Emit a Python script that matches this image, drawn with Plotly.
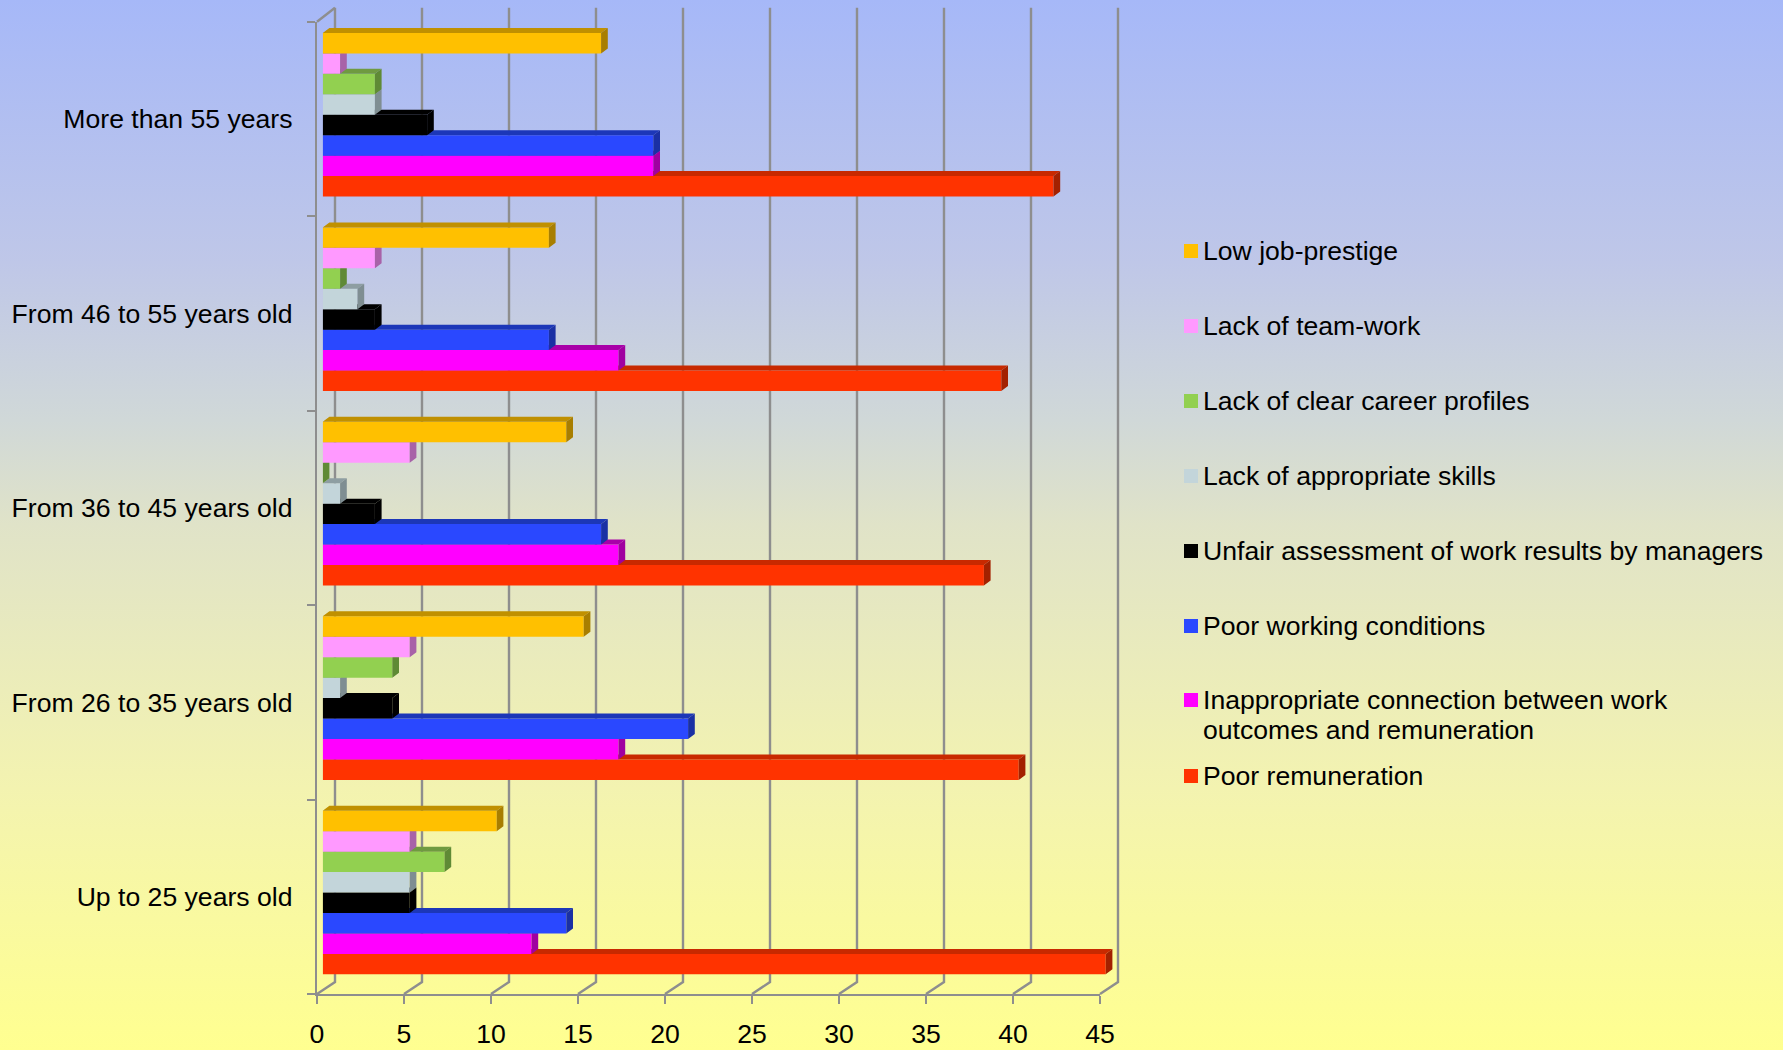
import plotly.graph_objects as go

categories = ["Up to 25 years old", "From 26 to 35 years old", "From 36 to 45 years old",
              "From 46 to 55 years old", "More than 55 years"]

poor_remuneration = [45, 40, 38, 39, 42]
inappropriate_connection = [12, 17, 17, 17, 19]
poor_conditions = [14, 21, 16, 13, 19]
unfair_assessment = [5, 4, 3, 3, 6]
lack_skills = [5, 1, 1, 2, 3]
lack_career = [7, 4, 0, 1, 3]
lack_teamwork = [5, 5, 5, 3, 1]
low_prestige = [10, 15, 14, 13, 16]

x_ticks = [0, 5, 10, 15, 20, 25, 30, 35, 40, 45]

series = [
    ("Poor remuneration", poor_remuneration, "#FF3300", "#C82900", "#A32100"),
    ("Inappropriate connection between work<br>outcomes and remuneration", inappropriate_connection, "#FF00FF", "#A800A8", "#A000A0"),
    ("Poor working conditions", poor_conditions, "#2A48FF", "#1C37B8", "#1A30A4"),
    ("Unfair assessment of work results by managers", unfair_assessment, "#000000", "#000000", "#000000"),
    ("Lack of appropriate skills", lack_skills, "#C3D5DA", "#8E9EA2", "#7F8E92"),
    ("Lack of clear career profiles", lack_career, "#92D050", "#6F9A40", "#5F8A35"),
    ("Lack of team-work", lack_teamwork, "#FF99FF", "#B46AB4", "#A862A8"),
    ("Low job-prestige", low_prestige, "#FFC000", "#C09000", "#A87E00"),
]

W, H = 1783, 1050
X0, X1 = 317.0, 1100.0        # front axis pixels
Y0, Y1 = 994.0, 21.7
FACE_DX, FACE_DY = 5.7, 4.2   # where the bars sit inside the depth
DEPTH_X, DEPTH_Y = 6.7, 5.0   # visible bar depth
BACK_X, BACK_YB, BACK_YT = 18.0, 12.0, 14.0
GRID = "#8E8E8E"
FONT = "Liberation Sans"
FS = 26.6

ux = (X1 - X0) / 45.0
uy = (Y0 - Y1) / 5.0
bar_w = 20.45 / uy

def dom_x(a, b):
    return [a / W, b / W]

def dom_y(bottom, top):
    return [1 - bottom / H, 1 - top / H]

fig = go.Figure()

# background gradient
fig.add_trace(go.Scatter(
    x=[0, W, W, 0, 0], y=[0, 0, H, H, 0], mode="lines", line=dict(width=0),
    fill="toself", hoverinfo="skip",
    fillgradient=dict(type="vertical", colorscale=[[0, "#FFFF90"], [0.25, "#F3F3B0"], [0.5, "#E0E3C8"],
                                                   [0.6, "#D0D8D8"], [0.75, "#BFC7E8"], [1, "#A6B8F8"]]),
    xaxis="x", yaxis="y",
))

# legend, drawn top to bottom; the swatch sits on the first line of its entry
legend_y = [776, 700, 626, 551, 476, 401, 326, 251]
for (name, _, col, _, _), ly in zip(series, legend_y):
    fig.add_trace(go.Scatter(x=[1191], y=[ly], mode="markers",
                             marker=dict(symbol="square", size=14, color=col, line=dict(width=0)),
                             xaxis="x", yaxis="y", hoverinfo="skip"))
    for j, part in enumerate(name.split("<br>")):
        fig.add_trace(go.Scatter(x=[1203], y=[ly + 2 + j * 30],
                                 mode="text", text=[part], textposition="middle right",
                                 textfont=dict(family=FONT, size=FS, color="black"),
                                 xaxis="x", yaxis="y", hoverinfo="skip"))

# back wall grid and diagonals, on a wider hidden pair of axes so nothing is clipped
bx = BACK_X / ux
yb = BACK_YB / uy
yt = 5 + BACK_YT / uy
gx, gy = [], []
for t in x_ticks:
    gx += [t, t + bx, t + bx, None]
    gy += [0, yb, yt, None]
gx += [0, bx, None]
gy += [5, yt, None]
fig.add_trace(go.Scatter(x=gx, y=gy, mode="lines", line=dict(color=GRID, width=2.4),
                         xaxis="x2", yaxis="y2", hoverinfo="skip"))
# frame axes: ticks, labels and the two front lines
fig.add_trace(go.Scatter(x=[0], y=[0], mode="markers", marker=dict(size=1, opacity=0),
                         xaxis="x3", yaxis="y3", hoverinfo="skip"))

layout_axes = {
    "xaxis": dict(domain=[0, 1], range=[0, W], visible=False, fixedrange=True, automargin=False),
    "yaxis": dict(domain=[0, 1], range=[H, 0], visible=False, fixedrange=True, automargin=False),
    "xaxis2": dict(domain=dom_x(X0 - ux, X0 + 47 * ux), range=[-1, 47], anchor="y2",
                   visible=False, fixedrange=True, automargin=False),
    "yaxis2": dict(domain=dom_y(Y0 + 0.1 * uy, Y1 - 0.1 * uy), range=[-0.1, 5.1], anchor="x2",
                   visible=False, fixedrange=True, automargin=False),
    "xaxis3": dict(domain=dom_x(X0, X1), range=[0, 45], anchor="y3", tickvals=x_ticks,
                   showgrid=False, zeroline=False, showline=True, linecolor=GRID, linewidth=2.4,
                   ticks="outside", ticklen=8, tickwidth=2.4, tickcolor=GRID,
                   ticklabelstandoff=7, automargin=False,
                   tickfont=dict(family=FONT, size=FS, color="black"), fixedrange=True),
    "yaxis3": dict(domain=dom_y(Y0, Y1), range=[0, 5], anchor="x3",
                   tickvals=[i + 0.5 for i in range(5)], ticktext=categories,
                   showgrid=False, zeroline=False, showline=True, linecolor=GRID, linewidth=2.4,
                   ticks="", ticklabelstandoff=17, automargin=False,
                   minor=dict(tickvals=list(range(6)), ticks="outside", ticklen=8, tickwidth=2.4,
                              tickcolor=GRID, showgrid=False),
                   tickfont=dict(family=FONT, size=FS, color="black"), fixedrange=True),
}

# bars: each series on its own layer so nearer faces cover the depth faces of the next
dx = DEPTH_X / ux
dy = DEPTH_Y / uy
for k, (name, vals, front, top, side) in enumerate(series):
    n = k + 4
    xa, ya = f"x{n}", f"y{n}"
    layout_axes[f"xaxis{n}"] = dict(domain=dom_x(X0 + FACE_DX, X1 + FACE_DX + ux), range=[0, 46],
                                    anchor=ya, visible=False, fixedrange=True, automargin=False)
    layout_axes[f"yaxis{n}"] = dict(domain=dom_y(Y0 - FACE_DY, Y1 - FACE_DY), range=[0, 5],
                                    anchor=xa, visible=False, fixedrange=True, automargin=False)
    ys = [i + 0.5 + (k - 3.5) * bar_w for i in range(5)]
    tx, ty, sx, sy = [], [], [], []
    for v, yc in zip(vals, ys):
        t, b = yc + bar_w / 2, yc - bar_w / 2
        tx += [0, v, v + dx, dx, 0, None]
        ty += [t, t, t + dy, t + dy, t, None]
        sx += [v, v + dx, v + dx, v, v, None]
        sy += [t, t + dy, b + dy, b, t, None]
    fig.add_trace(go.Bar(y=ys, x=vals, orientation="h", width=bar_w, name=name,
                         marker=dict(color=front, line=dict(width=0)), xaxis=xa, yaxis=ya))
    fig.add_trace(go.Scatter(x=tx, y=ty, mode="lines", fill="toself", fillcolor=top,
                             line=dict(width=0), xaxis=xa, yaxis=ya, hoverinfo="skip"))
    fig.add_trace(go.Scatter(x=sx, y=sy, mode="lines", fill="toself", fillcolor=side,
                             line=dict(width=0), xaxis=xa, yaxis=ya, hoverinfo="skip"))

fig.update_layout(template="none", width=W, height=H, margin=dict(l=0, r=0, t=0, b=0, pad=0), showlegend=False,
                  paper_bgcolor="rgba(0,0,0,0)", plot_bgcolor="rgba(0,0,0,0)",
                  font=dict(family=FONT), **layout_axes)

fig.write_html("out.html", post_script="document.body.style.margin='0';", config={"displayModeBar": False})
